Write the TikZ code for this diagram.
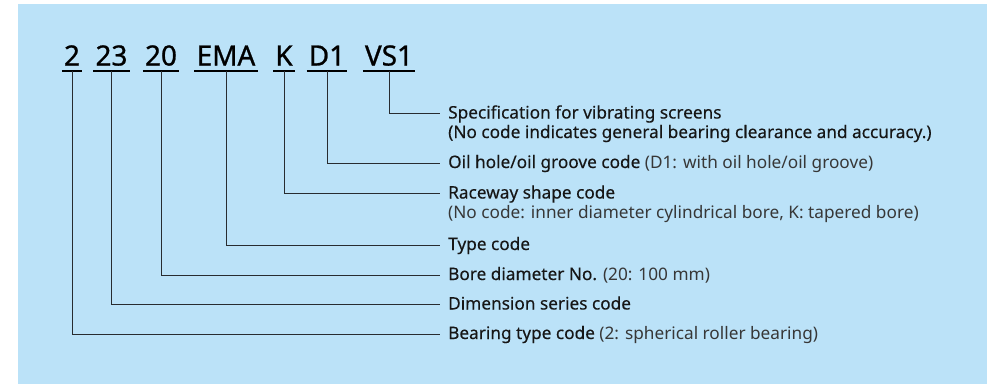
\documentclass[tikz,border=0pt]{standalone}
\usepackage{fontspec}
\setmainfont{Noto Sans}
\newfontfamily\codefont[FakeBold=0.9]{Noto Sans}
\newfontfamily\mainfont[FakeBold=0.25]{Noto Sans}
\definecolor{bg}{RGB}{187,226,248}
\definecolor{ink}{RGB}{22,22,22}
\definecolor{soft}{RGB}{55,55,55}
\definecolor{wire}{RGB}{40,44,48}
\begin{document}
\begin{tikzpicture}[x=1bp,y=-1bp,
  codetxt/.style={font=\codefont\fontsize{28}{30}\selectfont, text=black, inner xsep=2bp, inner ysep=0pt, anchor=base},
  lbl/.style={font=\mainfont\fontsize{17.3}{19}\selectfont, text=ink, inner sep=0pt, anchor=base west},
  conn/.style={draw=wire, line width=0.9bp},
  uline/.style={draw=black, line width=1.3bp}]
\useasboundingbox (0,0) rectangle (998,384);
\fill[bg] (18,4) rectangle (987,384);
% code tokens
\node[codetxt] (c1) at (72,65.5) {2};
\node[codetxt] (c2) at (111.5,65.5) {23};
\node[codetxt] (c3) at (161,65.5) {20};
\node[codetxt] (c4) at (226,65.5) {EMA};
\node[codetxt] (c5) at (284,65.5) {K};
\node[codetxt] (c6) at (327,65.5) {D1};
\node[codetxt] (c7) at (389,65.5) {VS1};
\foreach \c in {c1,c2,c3,c4,c5,c6,c7}{
  \draw[uline] ([yshift=-5.5bp]\c.base west) -- ([yshift=-5.5bp]\c.base east);
  \coordinate (\c u) at ([yshift=-5.5bp]\c.base);
}
% labels
\node[lbl] (l7) at (448,118.5) {Specification for vibrating screens};
\node[lbl] (l7b) at (448,138) {(No code indicates general bearing clearance and accuracy.)};
\node[lbl] (l6) at (448,168) {Oil hole/oil groove code {\normalfont\color{soft}(D1: with oil hole/oil groove)}};
\node[lbl] (l5) at (448,198.5) {Raceway shape code};
\node[lbl] (l5b) at (448,218) {\normalfont\color{soft}(No code: inner diameter cylindrical bore, K: tapered bore)};
\node[lbl] (l4) at (448,250) {Type code};
\node[lbl] (l3) at (448,280) {Bore diameter No. {\normalfont\color{soft}(20: 100 mm)}};
\node[lbl] (l2) at (448,309.5) {Dimension series code};
\node[lbl] (l1) at (448,339) {Bearing type code {\normalfont\color{soft}(2: spherical roller bearing)}};
% connectors
\foreach \i in {1,...,7}{
  \draw[conn] (c\i u) |- ([xshift=-8bp,yshift=5bp]l\i.base west);
}
\end{tikzpicture}
\end{document}
